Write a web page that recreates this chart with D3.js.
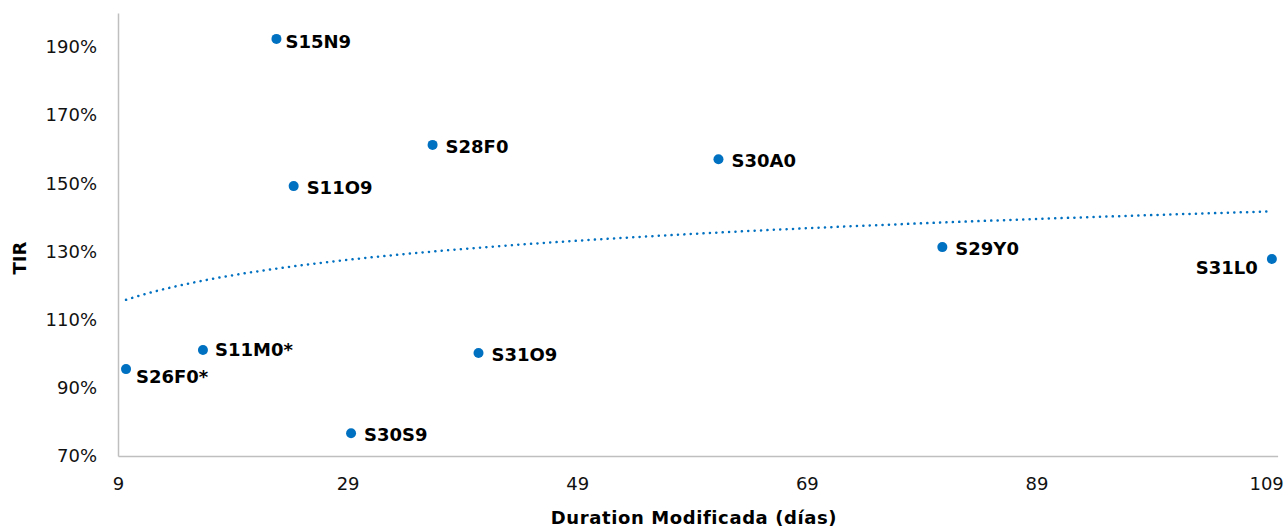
<!DOCTYPE html>
<html>
<head>
<meta charset="utf-8">
<script src="https://cdn.jsdelivr.net/npm/d3@7"></script>
<style>
  body { margin: 0; background: #fff; }
  text { font-family: "DejaVu Sans", "Noto Sans", sans-serif; }
</style>
</head>
<body>
<svg></svg>
<script>
const names = ["S15N9", "S11O9", "S28F0", "S30A0", "S29Y0", "S31L0", "S11M0*", "S26F0*", "S31O9", "S30S9"];
const duration = [22.8, 24.3, 36.4, 61.3, 80.8, 109.5, 16.4, 9.7, 40.4, 29.3];
const tir = [192.4, 149.2, 161.3, 157.1, 131.3, 127.8, 101.1, 95.5, 100.2, 76.7];
const xTicks = [9, 29, 49, 69, 89, 109];
const yTicks = [70, 90, 110, 130, 150, 170, 190];

const width = 1287, height = 527;
const mLeft = 118, mRight = 1277.6, mTop = 13, mBottom = 456;

const svg = d3.select("svg").attr("width", width).attr("height", height);

const x = d3.scaleLinear().domain([9, 110]).range([mLeft, mRight]);
const y = d3.scaleLinear().domain([70, 200]).range([mBottom, mTop]);

const data = names.map((n, i) => ({name: n, x: duration[i], y: tir[i]}));

// axes
svg.append("g")
  .attr("transform", `translate(0, ${mBottom})`)
  .call(d3.axisBottom(x).tickValues(xTicks).tickSize(0).tickPadding(21).tickFormat(d3.format("d")))
  .call(g => g.select(".domain").attr("stroke", "#bfbfbf").attr("stroke-width", 1.5))
  .call(g => g.selectAll("text").attr("font-size", 18).attr("fill", "#111"));

svg.append("g")
  .attr("transform", `translate(${mLeft}, 0)`)
  .call(d3.axisLeft(y).tickValues(yTicks).tickSize(0).tickPadding(21).tickFormat(d => d + "%"))
  .call(g => g.select(".domain").attr("stroke", "#bfbfbf").attr("stroke-width", 1.5))
  .call(g => g.selectAll("text").attr("font-size", 18).attr("fill", "#111"));

// logarithmic trendline y = a + b ln(x)
const lx = data.map(d => Math.log(d.x));
const mx = d3.mean(lx), my = d3.mean(data, d => d.y);
const b = d3.sum(data, (d, i) => (lx[i] - mx) * (d.y - my)) / d3.sum(lx, v => (v - mx) * (v - mx));
const a = my - b * mx;
const xmin = d3.min(duration), xmax = d3.max(duration);
const trend = d3.range(0, 101).map(i => {
  const xv = xmin + (xmax - xmin) * i / 100;
  return [xv, a + b * Math.log(xv)];
});
svg.append("path")
  .datum(trend)
  .attr("fill", "none")
  .attr("stroke", "#0070C0")
  .attr("stroke-width", 2.5)
  .attr("stroke-linecap", "round")
  .attr("stroke-dasharray", "0.1 6.3")
  .attr("d", d3.line().x(d => x(d[0])).y(d => y(d[1])));

// points
svg.append("g").selectAll("circle")
  .data(data)
  .enter()
  .append("circle")
    .attr("cx", d => x(d.x))
    .attr("cy", d => y(d.y))
    .attr("r", 5)
    .attr("fill", "#0070C0");

// labels
const offsets = {
  "S26F0*": {dx: 10, dy: 14, anchor: "start"},
  "S31L0": {dx: -14, dy: 15, anchor: "end"},
  "S15N9": {dx: 9, dy: 9, anchor: "start"},
  "S11M0*": {dx: 12, dy: 6, anchor: "start"}
};
svg.append("g").selectAll("text")
  .data(data)
  .enter()
  .append("text")
    .attr("x", d => x(d.x) + (offsets[d.name] ? offsets[d.name].dx : 13))
    .attr("y", d => y(d.y) + (offsets[d.name] ? offsets[d.name].dy : 8))
    .attr("text-anchor", d => offsets[d.name] ? offsets[d.name].anchor : "start")
    .attr("font-size", 18)
    .attr("font-weight", "bold")
    .attr("fill", "#000")
    .text(d => d.name);

// axis titles
svg.append("text")
  .attr("x", 694)
  .attr("y", 524)
  .attr("text-anchor", "middle")
  .attr("font-size", 18)
  .attr("font-weight", "bold")
  .attr("letter-spacing", 0.6)
  .text("Duration Modificada (días)");

svg.append("text")
  .attr("transform", `translate(26, 258) rotate(-90)`)
  .attr("text-anchor", "middle")
  .attr("font-size", 18)
  .attr("font-weight", "bold")
  .text("TIR");
</script>
</body>
</html>
